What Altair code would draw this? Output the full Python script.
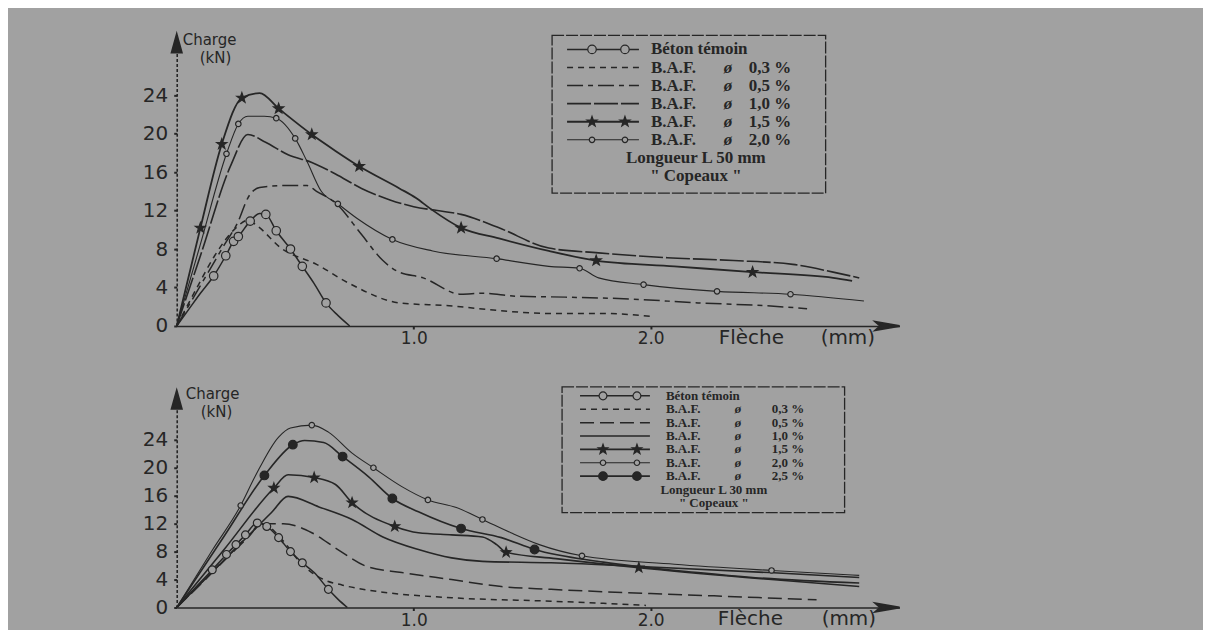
import altair as alt
import pandas as pd

BG = "#a1a1a1"
INK = "#262626"
SANS = "DejaVu Sans"
SERIF = "Liberation Serif"
STAR = ("M 0 -1 L 0.235 -0.324 L 0.951 -0.309 L 0.38 0.124 L 0.588 0.809 L 0 0.4 "
        "L -0.588 0.809 L -0.38 0.124 L -0.951 -0.309 L -0.235 -0.324 Z")
UP_ARROW = "M 0 -1 L 0.5 0.8 L -0.5 0.8 Z"
RIGHT_ARROW = "M 1 0 L -1 -0.35 L -0.6 0 L -1 0.35 Z"

X_MAX = 3.05
PANEL_W = 724
X_TICKS = [1.0, 2.0]
Y_TICKS = [0, 4, 8, 12, 16, 20, 24]

# ---------------- top panel : fibres 50 mm ----------------
TOP_Y_MAX = 30.3
TOP_H = 292
TOP_CODES = ["bt", "03", "05", "10", "15", "20"]
TOP_PCT = ["", "0,3 %", "0,5 %", "1,0 %", "1,5 %", "2,0 %"]
TOP_FOOT = ["Longueur L   50 mm", "\" Copeaux \""]

top_bt_x = [0, 0.05, 0.10, 0.156, 0.207, 0.24, 0.26, 0.31, 0.35, 0.376, 0.42, 0.48, 0.53, 0.58, 0.63, 0.68, 0.73]
top_bt_y = [0, 1.7, 3.4, 5.2, 7.3, 8.8, 9.3, 10.9, 11.7, 11.6, 9.9, 8.0, 6.2, 4.4, 2.4, 1.1, 0]
top_bt_mx = [0.156, 0.207, 0.24, 0.26, 0.31, 0.376, 0.42, 0.48, 0.53, 0.63]
top_bt_my = [5.2, 7.3, 8.8, 9.3, 10.9, 11.6, 9.9, 8.0, 6.2, 2.4]

top_03_x = [0, 0.09, 0.16, 0.25, 0.30, 0.34, 0.44, 0.59, 0.73, 0.94, 1.15, 1.36, 1.57, 1.80, 2.00]
top_03_y = [0, 4.2, 7.3, 10.2, 11.0, 10.4, 8.1, 6.4, 4.4, 2.4, 2.1, 1.6, 1.3, 1.3, 1.0]

top_05_x = [0, 0.10, 0.20, 0.26, 0.30, 0.35, 0.45, 0.55, 0.59, 0.67, 0.78, 0.87, 0.93, 1.04, 1.20, 1.29, 1.43, 1.64, 1.92, 2.20, 2.49, 2.66]
top_05_y = [0, 4.2, 8.4, 10.9, 13.3, 14.4, 14.6, 14.6, 14.0, 12.8, 9.5, 6.8, 5.7, 5.0, 3.3, 3.4, 3.1, 3.0, 2.8, 2.4, 2.1, 1.8]

top_10_x = [0, 0.10, 0.23, 0.30, 0.375, 0.47, 0.57, 0.67, 0.78, 0.90, 1.00, 1.10, 1.20, 1.36, 1.57, 1.78, 2.07, 2.35, 2.60, 2.77, 2.88]
top_10_y = [0, 7.3, 16.8, 19.9, 19.1, 17.8, 17.0, 15.8, 14.3, 13.1, 12.4, 12.0, 11.6, 10.2, 8.1, 7.6, 7.1, 6.8, 6.4, 5.6, 5.0]

top_15_x = [0, 0.10, 0.19, 0.275, 0.35, 0.43, 0.57, 0.67, 0.77, 0.94, 1.01, 1.07, 1.20, 1.36, 1.57, 1.77, 2.10, 2.43, 2.77, 2.85]
top_15_y = [0, 10.2, 18.9, 23.7, 24.2, 22.6, 19.9, 18.2, 16.6, 14.3, 13.3, 12.2, 10.2, 9.1, 7.8, 6.8, 6.2, 5.6, 5.0, 4.7]
top_15_mx = [0.10, 0.19, 0.275, 0.43, 0.57, 0.77, 1.20, 1.77, 2.43]
top_15_my = [10.2, 18.9, 23.7, 22.6, 19.9, 16.6, 10.2, 6.8, 5.6]

top_20_x = [0, 0.10, 0.21, 0.26, 0.30, 0.37, 0.42, 0.50, 0.55, 0.61, 0.68, 0.76, 0.91, 1.08, 1.35, 1.57, 1.70, 1.78, 1.97, 2.28, 2.59, 2.90]
top_20_y = [0, 8.5, 17.9, 21.0, 21.8, 21.8, 21.6, 19.5, 17.1, 14.0, 12.7, 11.2, 9.0, 7.8, 7.0, 6.2, 6.0, 5.0, 4.3, 3.6, 3.3, 2.6]
top_20_mx = [0.21, 0.26, 0.42, 0.50, 0.68, 0.91, 1.35, 1.70, 1.97, 2.28, 2.59]
top_20_my = [17.9, 21.0, 21.6, 19.5, 12.7, 9.0, 7.0, 6.0, 4.3, 3.6, 3.3]

# ---------------- bottom panel : fibres 30 mm ----------------
BOT_Y_MAX = 31.0
BOT_H = 217
BOT_CODES = ["bt", "03", "05", "10", "15", "20", "25"]
BOT_PCT = ["", "0,3 %", "0,5 %", "1,0 %", "1,5 %", "2,0 %", "2,5 %"]
BOT_FOOT = ["Longueur L   30 mm", "\" Copeaux \""]

bot_bt_x = [0, 0.05, 0.10, 0.15, 0.21, 0.25, 0.29, 0.34, 0.38, 0.43, 0.48, 0.53, 0.58, 0.64, 0.68, 0.72]
bot_bt_y = [0, 1.8, 3.6, 5.4, 7.6, 9.0, 10.4, 12.1, 11.6, 10.0, 8.0, 6.4, 5.0, 2.6, 1.2, 0]
bot_bt_mx = [0.15, 0.21, 0.25, 0.29, 0.34, 0.38, 0.43, 0.48, 0.53, 0.64]
bot_bt_my = [5.4, 7.6, 9.0, 10.4, 12.1, 11.6, 10.0, 8.0, 6.4, 2.6]

bot_03_x = [0, 0.10, 0.20, 0.30, 0.36, 0.45, 0.52, 0.57, 0.62, 0.70, 0.87, 1.16, 1.58, 1.80, 1.98]
bot_03_y = [0, 3.4, 6.8, 10.2, 12.0, 9.5, 6.5, 5.0, 4.0, 3.2, 2.2, 1.4, 0.9, 0.6, 0.3]

bot_05_x = [0, 0.10, 0.20, 0.30, 0.36, 0.45, 0.57, 0.68, 0.80, 0.95, 1.16, 1.37, 1.58, 2.00, 2.40, 2.70]
bot_05_y = [0, 3.3, 6.7, 10.0, 12.0, 12.0, 10.7, 8.3, 5.9, 5.0, 4.0, 3.0, 2.6, 2.0, 1.5, 1.1]

bot_10_x = [0, 0.10, 0.20, 0.30, 0.40, 0.47, 0.60, 0.74, 0.87, 1.02, 1.16, 1.29, 1.58, 2.00, 2.50, 2.88]
bot_10_y = [0, 3.4, 6.8, 10.2, 13.6, 15.9, 14.4, 12.6, 10.1, 8.3, 7.1, 6.6, 6.4, 5.8, 5.0, 4.3]

bot_15_x = [0, 0.20, 0.41, 0.47, 0.58, 0.67, 0.74, 0.92, 1.02, 1.16, 1.29, 1.35, 1.39, 1.60, 1.95, 2.40, 2.88]
bot_15_y = [0, 8.3, 17.1, 19.0, 18.6, 17.6, 15.0, 11.6, 10.7, 10.4, 10.1, 9.0, 7.9, 7.0, 5.7, 4.3, 3.0]
bot_15_mx = [0.41, 0.58, 0.74, 0.92, 1.39, 1.95]
bot_15_my = [17.1, 18.6, 15.0, 11.6, 7.9, 5.7]

bot_20_x = [0, 0.15, 0.27, 0.33, 0.43, 0.48, 0.57, 0.64, 0.74, 0.83, 0.95, 1.06, 1.18, 1.29, 1.41, 1.53, 1.71, 2.10, 2.51, 2.88]
bot_20_y = [0, 8.2, 14.6, 18.7, 24.4, 25.7, 26.1, 25.1, 22.1, 20.0, 17.3, 15.4, 14.3, 12.6, 10.7, 9.0, 7.4, 6.2, 5.3, 4.6]
bot_20_mx = [0.27, 0.57, 0.83, 1.06, 1.29, 1.71, 2.51]
bot_20_my = [14.6, 26.1, 20.0, 15.4, 12.6, 7.4, 5.3]

bot_25_x = [0, 0.20, 0.37, 0.49, 0.54, 0.62, 0.70, 0.81, 0.91, 1.02, 1.20, 1.37, 1.51, 1.80, 2.20, 2.43, 2.88]
bot_25_y = [0, 10.2, 18.9, 23.3, 23.9, 23.6, 21.6, 18.7, 15.6, 13.7, 11.3, 10.0, 8.3, 6.5, 5.0, 4.3, 3.5]
bot_25_mx = [0.37, 0.49, 0.70, 0.91, 1.20, 1.51]
bot_25_my = [18.9, 23.3, 21.6, 15.6, 11.3, 8.3]

# ---------------- styles ----------------
TOP_STYLE = {
    "bt": dict(width=1.5, shape="circle", filled=False, size=72),
    "03": dict(width=1.5, dash=[6, 5]),
    "05": dict(width=1.5, dash=[16, 5, 5, 5]),
    "10": dict(width=1.6, dash=[24, 3]),
    "15": dict(width=1.8, shape=STAR, filled=True, size=115),
    "20": dict(width=1.1, shape="circle", filled=False, size=30),
}
BOT_STYLE = {
    "bt": dict(width=1.5, shape="circle", filled=False, size=62),
    "03": dict(width=1.5, dash=[6, 5]),
    "05": dict(width=1.5, dash=[14, 6]),
    "10": dict(width=1.6),
    "15": dict(width=1.6, shape=STAR, filled=True, size=105),
    "20": dict(width=1.1, shape="circle", filled=False, size=30),
    "25": dict(width=1.6, shape="circle", filled=True, size=75),
}

# legend / annotation layout, in pixels from the panel's top-left corner
TOP_LEG = dict(bx0=376, bx1=650, by0=1, by1=159, row0=15, rowh=18.1, sx0=391, sx1=463,
               mx=[416, 449], c1=475, c2=548, c3=573, fc=520, fs=17,
               charge=(6, 6), kn=(23, 24), fleche=(543, 645, TOP_H + 12))
BOT_LEG = dict(bx0=386, bx1=669, by0=-4, by1=122, row0=5, rowh=13.4, sx0=404, sx1=474,
               mx=[427, 461], c1=490, c2=559, c3=596, fc=538, fs=13,
               charge=(9, 3), kn=(24, 21), fleche=(542, 646, BOT_H + 12))


def xy(x, y):
    return pd.DataFrame({"x": x, "y": y})


def point_kw(st):
    return dict(shape=st["shape"], size=st["size"], filled=True,
                fill=INK if st["filled"] else BG, stroke=INK,
                strokeWidth=1.2, opacity=1)


def panel(curves, markers, codes, pcts, foot, style, ymax, height, L):
    def dx(px):
        return px * X_MAX / PANEL_W

    def dy(py):
        return ymax * (1 - py / height)

    xs = alt.Scale(domain=[0, X_MAX], nice=False, zero=False)
    ys = alt.Scale(domain=[0, ymax], nice=False, zero=True)
    xax = alt.Axis(values=X_TICKS, format=".1f", title=None, grid=False,
                   labelFont=SANS, labelFontSize=17, labelColor=INK, labelFlush=False,
                   tickColor=INK, tickSize=3, tickWidth=2, labelPadding=2,
                   domainColor=INK, domainWidth=1.6)
    yax = alt.Axis(values=Y_TICKS, format="d", title=None, grid=False,
                   labelFont=SANS, labelFontSize=20, labelColor=INK, labelFlush=False,
                   tickColor=INK, tickSize=3, tickWidth=2, labelPadding=6,
                   domainColor=INK, domainWidth=1.6, domainDash=[3, 2])
    X = alt.X("x:Q", scale=xs, axis=xax)
    Y = alt.Y("y:Q", scale=ys, axis=yax)
    X2 = alt.X2("x2:Q")
    Y2 = alt.Y2("y2:Q")
    layers = []
    for code in codes:
        cx, cy = curves[code]
        st = style[code]
        kw = dict(color=INK, strokeWidth=st["width"], interpolate="monotone")
        if "dash" in st:
            kw["strokeDash"] = st["dash"]
        layers.append(alt.Chart(xy(cx, cy)).mark_line(**kw).encode(x=X, y=Y))
    for code, (mx, my) in markers.items():
        layers.append(alt.Chart(xy(mx, my)).mark_point(**point_kw(style[code])).encode(x=X, y=Y))
    # axis arrows
    layers.append(alt.Chart(xy([0.0], [dy(10)])).mark_point(
        shape=UP_ARROW, size=400, filled=True, fill=INK, stroke=INK, opacity=1
    ).encode(x=X, y=Y))
    layers.append(alt.Chart(xy([dx(PANEL_W - 12)], [0.0])).mark_point(
        shape=RIGHT_ARROW, size=576, filled=True, fill=INK, stroke=INK, opacity=1
    ).encode(x=X, y=Y))
    # axis titles
    titles = pd.DataFrame({
        "x": [dx(L["charge"][0]), dx(L["kn"][0])],
        "y": [dy(L["charge"][1]), dy(L["kn"][1])],
        "t": ["Charge", "(kN)"],
    })
    layers.append(alt.Chart(titles).mark_text(
        font=SANS, fontSize=15, color=INK, align="left", baseline="middle"
    ).encode(x=X, y=Y, text="t:N"))
    fl = pd.DataFrame({"x": [dx(L["fleche"][0]), dx(L["fleche"][1])],
                       "y": [dy(L["fleche"][2])] * 2, "t": ["Flèche", "(mm)"]})
    layers.append(alt.Chart(fl).mark_text(
        font=SANS, fontSize=20, color=INK, align="left", baseline="middle"
    ).encode(x=X, y=Y, text="t:N"))
    # legend box
    box = pd.DataFrame({"x": [dx(L["bx0"])], "x2": [dx(L["bx1"])],
                        "y": [dy(L["by0"])], "y2": [dy(L["by1"])]})
    layers.append(alt.Chart(box).mark_rect(
        fillOpacity=0, stroke=INK, strokeWidth=1.3, strokeDash=[12, 2]
    ).encode(x=X, x2=X2, y=Y, y2=Y2))
    # legend rows
    t_x, t_y, t_t = [], [], []
    o_x, o_y = [], []
    for i, code in enumerate(codes):
        ly = dy(L["row0"] + i * L["rowh"])
        st = style[code]
        kw = dict(color=INK, strokeWidth=st["width"])
        if "dash" in st:
            kw["strokeDash"] = st["dash"]
        seg = pd.DataFrame({"x": [dx(L["sx0"])], "x2": [dx(L["sx1"])], "y": [ly]})
        layers.append(alt.Chart(seg).mark_rule(**kw).encode(x=X, x2=X2, y=Y))
        if "shape" in st:
            pts = xy([dx(m) for m in L["mx"]], [ly] * len(L["mx"]))
            layers.append(alt.Chart(pts).mark_point(**point_kw(st)).encode(x=X, y=Y))
        if code == "bt":
            t_x.append(dx(L["c1"])); t_y.append(ly); t_t.append("Béton témoin")
        else:
            t_x += [dx(L["c1"]), dx(L["c3"])]
            t_y += [ly, ly]
            t_t += ["B.A.F.", pcts[i]]
            o_x.append(dx(L["c2"])); o_y.append(ly)
    lt = dict(font=SERIF, fontWeight="bold", fontSize=L["fs"], color=INK,
              align="left", baseline="middle")
    layers.append(alt.Chart(pd.DataFrame({"x": t_x, "y": t_y, "t": t_t})).mark_text(**lt)
                  .encode(x=X, y=Y, text="t:N"))
    layers.append(alt.Chart(pd.DataFrame({"x": o_x, "y": o_y, "t": ["ø"] * len(o_x)}))
                  .mark_text(**dict(lt, fontStyle="italic")).encode(x=X, y=Y, text="t:N"))
    f_y = [dy(L["row0"] + (len(codes) + j) * L["rowh"]) for j in range(len(foot))]
    layers.append(alt.Chart(pd.DataFrame({"x": [dx(L["fc"])] * len(foot), "y": f_y, "t": foot}))
                  .mark_text(**dict(lt, align="center")).encode(x=X, y=Y, text="t:N"))
    return alt.layer(*layers).properties(width=PANEL_W, height=height)


top = panel(
    {"bt": (top_bt_x, top_bt_y), "03": (top_03_x, top_03_y), "05": (top_05_x, top_05_y),
     "10": (top_10_x, top_10_y), "15": (top_15_x, top_15_y), "20": (top_20_x, top_20_y)},
    {"bt": (top_bt_mx, top_bt_my), "15": (top_15_mx, top_15_my), "20": (top_20_mx, top_20_my)},
    TOP_CODES, TOP_PCT, TOP_FOOT, TOP_STYLE, TOP_Y_MAX, TOP_H, TOP_LEG)

bot = panel(
    {"bt": (bot_bt_x, bot_bt_y), "03": (bot_03_x, bot_03_y), "05": (bot_05_x, bot_05_y),
     "10": (bot_10_x, bot_10_y), "15": (bot_15_x, bot_15_y), "20": (bot_20_x, bot_20_y),
     "25": (bot_25_x, bot_25_y)},
    {"bt": (bot_bt_mx, bot_bt_my), "15": (bot_15_mx, bot_15_my), "20": (bot_20_mx, bot_20_my),
     "25": (bot_25_mx, bot_25_my)},
    BOT_CODES, BOT_PCT, BOT_FOOT, BOT_STYLE, BOT_Y_MAX, BOT_H, BOT_LEG)

chart = alt.vconcat(top, bot, spacing=38).properties(
    padding={"left": 134, "right": 300, "top": 22, "bottom": 0},
    background=BG,
).configure_view(stroke=None)

chart.save("out.html", embed_options={"renderer": "svg", "actions": False})
